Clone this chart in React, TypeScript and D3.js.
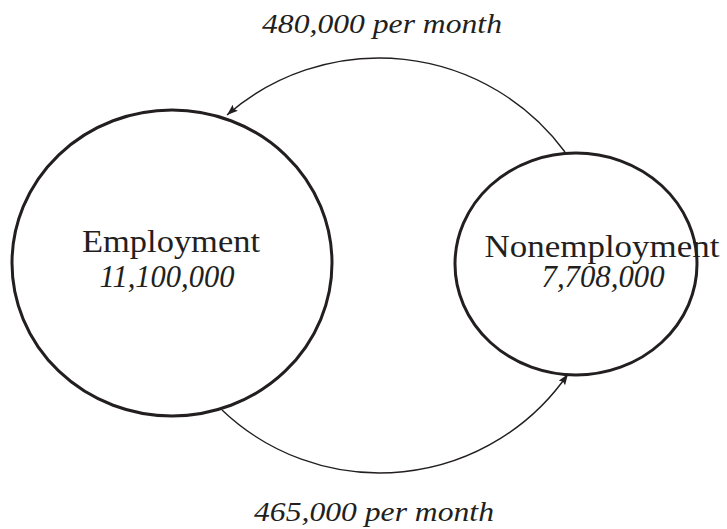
import * as d3 from "d3";
import { useEffect, useRef } from "react";

// stocks and flows
const states = ["Employment", "Nonemployment"];
const stocks = [11100000, 7708000];
const flowLabels = ["480,000 per month", "465,000 per month"];

// node layout (ellipse centres and radii)
const nodeCx = [172, 576];
const nodeCy = [263, 264];
const nodeRx = [160, 121];
const nodeRy = [153, 111];

// arc guide points: start, apex, end
const flowPts: [number, number][][] = [
  [[565, 152], [380, 58], [227, 115]],
  [[222, 410], [380, 473], [568, 374]],
];

const ink = "#231f20";
const serif = "'Liberation Serif', 'Times New Roman', serif";

function arcPath(p: [number, number][]) {
  const [[ax, ay], [bx, by], [cx, cy]] = p;
  const d = 2 * (ax * (by - cy) + bx * (cy - ay) + cx * (ay - by));
  const ux = ((ax * ax + ay * ay) * (by - cy) + (bx * bx + by * by) * (cy - ay) + (cx * cx + cy * cy) * (ay - by)) / d;
  const uy = ((ax * ax + ay * ay) * (cx - bx) + (bx * bx + by * by) * (ax - cx) + (cx * cx + cy * cy) * (bx - ax)) / d;
  const r = Math.hypot(ax - ux, ay - uy);
  const cross = (bx - ax) * (cy - by) - (by - ay) * (cx - bx);
  const sweep = cross > 0 ? 1 : 0;
  return `M${ax},${ay} A${r},${r} 0 0 ${sweep} ${cx},${cy}`;
}

export default function App() {
  const svgRef = useRef<SVGSVGElement | null>(null);

  useEffect(() => {
    document.body.style.margin = "0";
    if (!svgRef.current) return;
    const svg = d3.select(svgRef.current);
    svg.selectAll("*").remove();

    const width = 727;
    const height = 529;
    svg.attr("width", width).attr("height", height).style("background", "#fff");

    const fmt = d3.format(",");

    svg.append("defs").append("marker")
      .attr("id", "head")
      .attr("markerUnits", "userSpaceOnUse")
      .attr("markerWidth", 12)
      .attr("markerHeight", 9)
      .attr("refX", 11)
      .attr("refY", 4)
      .attr("orient", "auto")
      .append("path")
      .attr("d", "M0,0 L11,4 L0,8 L2,4 z")
      .attr("fill", ink);

    // nodes
    const nodes = svg.selectAll("g.node")
      .data(states)
      .enter()
      .append("g")
      .attr("class", "node");

    nodes.append("ellipse")
      .attr("cx", (_, i) => nodeCx[i])
      .attr("cy", (_, i) => nodeCy[i])
      .attr("rx", (_, i) => nodeRx[i])
      .attr("ry", (_, i) => nodeRy[i])
      .attr("fill", "none")
      .attr("stroke", ink)
      .attr("stroke-width", 3);

    const nameX = [171, 602];
    const nameY = [252, 257];
    const nameW = [178, 235];
    const numX = [167, 603];
    const numW = [135, 123];

    nodes.append("text")
      .attr("x", (_, i) => nameX[i])
      .attr("y", (_, i) => nameY[i])
      .attr("text-anchor", "middle")
      .attr("textLength", (_, i) => nameW[i])
      .attr("lengthAdjust", "spacingAndGlyphs")
      .style("font-family", serif)
      .style("font-size", "32px")
      .attr("fill", ink)
      .text(d => d);

    nodes.append("text")
      .attr("x", (_, i) => numX[i])
      .attr("y", 287)
      .attr("text-anchor", "middle")
      .attr("textLength", (_, i) => numW[i])
      .attr("lengthAdjust", "spacingAndGlyphs")
      .style("font-family", serif)
      .style("font-size", "32px")
      .style("font-style", "italic")
      .attr("fill", ink)
      .text((_, i) => fmt(stocks[i]));

    // flows
    svg.selectAll("path.flow")
      .data(flowPts)
      .enter()
      .append("path")
      .attr("class", "flow")
      .attr("d", d => arcPath(d))
      .attr("fill", "none")
      .attr("stroke", ink)
      .attr("stroke-width", 1.4)
      .attr("marker-end", "url(#head)");

    const labelX = [382, 374];
    const labelY = [33, 521];
    svg.selectAll("text.flowLabel")
      .data(flowLabels)
      .enter()
      .append("text")
      .attr("class", "flowLabel")
      .attr("x", (_, i) => labelX[i])
      .attr("y", (_, i) => labelY[i])
      .attr("text-anchor", "middle")
      .attr("textLength", 240)
      .attr("lengthAdjust", "spacingAndGlyphs")
      .style("font-family", serif)
      .style("font-size", "27px")
      .style("font-style", "italic")
      .attr("fill", ink)
      .text(d => d);
  }, []);

  return <svg ref={svgRef}></svg>;
}
